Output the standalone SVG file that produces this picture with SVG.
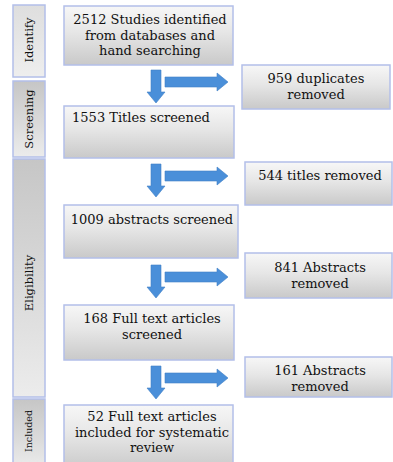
<svg xmlns="http://www.w3.org/2000/svg" width="393" height="462" viewBox="0 0 393 462">
  <defs>
    <linearGradient id="boxFill" x1="0" y1="0" x2="0" y2="1">
      <stop offset="0" stop-color="#f7f7f7"/>
      <stop offset="0.45" stop-color="#e6e6e6"/>
      <stop offset="1" stop-color="#c9c9c9"/>
    </linearGradient>
    <linearGradient id="stageFill" x1="0" y1="0" x2="0" y2="1">
      <stop offset="0" stop-color="#c6c6c6"/>
      <stop offset="0.6" stop-color="#dcdcdc"/>
      <stop offset="1" stop-color="#ececec"/>
    </linearGradient>
    <linearGradient id="stageLight" x1="0" y1="0" x2="0" y2="1">
      <stop offset="0" stop-color="#dedede"/>
      <stop offset="1" stop-color="#eeeeee"/>
    </linearGradient>
    <g id="arrowDown">
      <path d="M-5,0 H5 V22 H9 L0,33 L-9,22 H-5 Z"/>
    </g>
    <g id="arrowRight">
      <path d="M0,-5 H52 V-9 L63,0 L52,9 V5 H0 Z"/>
    </g>
  </defs>
  <style>
    .box { fill: url(#boxFill); stroke: #b3bfe9; stroke-width: 1.5; }
    .stage { fill: url(#stageFill); stroke: #b3bfe9; stroke-width: 1.5; }
    .stage.light { fill: url(#stageLight); }
    text { font-family: "DejaVu Serif", "Liberation Serif", serif; font-size: 13px; fill: #111111; text-anchor: middle; }
    .stage-label { font-size: 11.5px; }
    .stage-label.small { font-size: 9.5px; }
    .arrow { fill: #4a8fd9; stroke: #3f7fc6; stroke-width: 0.6; }
  </style>

  <!-- stage column -->
  <g id="stage-identify">
    <rect class="stage light" x="13" y="5" width="32" height="72"/>
    <text class="stage-label" transform="translate(33,40) rotate(-90)">Identify</text>
  </g>
  <g id="stage-screening">
    <rect class="stage" x="13" y="81" width="32" height="76"/>
    <text class="stage-label" transform="translate(33,119) rotate(-90)">Screening</text>
  </g>
  <g id="stage-eligibility">
    <rect class="stage" x="13" y="159" width="32" height="238"/>
    <text class="stage-label" transform="translate(33,283) rotate(-90)">Eligibility</text>
  </g>
  <g id="stage-included">
    <rect class="stage" x="13" y="399" width="32" height="70"/>
    <text class="stage-label small" transform="translate(32,431) rotate(-90)">Included</text>
  </g>

  <!-- main flow -->
  <g id="identified">
    <rect class="box" x="64" y="6" width="169" height="59"/>
    <text x="150" y="24">2512 Studies identified</text>
    <text x="150" y="39.5">from databases and</text>
    <text x="150" y="55">hand searching</text>
  </g>
  <g id="titles-screened">
    <rect class="box" x="64" y="106" width="170" height="52"/>
    <text x="141" y="122">1553 Titles screened</text>
  </g>
  <g id="abstracts-screened">
    <rect class="box" x="64" y="205" width="174" height="53"/>
    <text x="152" y="224">1009 abstracts screened</text>
  </g>
  <g id="fulltext-screened">
    <rect class="box" x="64" y="305" width="170" height="55"/>
    <text x="152" y="323">168 Full text articles</text>
    <text x="152" y="339">screened</text>
  </g>
  <g id="included">
    <rect class="box" x="64" y="405" width="169" height="65"/>
    <text x="152" y="421">52 Full text articles</text>
    <text x="152" y="436.5">included for systematic</text>
    <text x="152" y="452">review</text>
  </g>

  <!-- exclusions -->
  <g id="duplicates-removed">
    <rect class="box" x="242" y="65" width="148" height="44"/>
    <text x="316" y="83">959 duplicates</text>
    <text x="316" y="99">removed</text>
  </g>
  <g id="titles-removed">
    <rect class="box" x="245" y="162" width="147" height="43"/>
    <text x="320" y="180">544 titles removed</text>
  </g>
  <g id="abstracts-removed">
    <rect class="box" x="245" y="253" width="147" height="45"/>
    <text x="320" y="272">841 Abstracts</text>
    <text x="320" y="288">removed</text>
  </g>
  <g id="fulltext-removed">
    <rect class="box" x="245" y="357" width="147" height="40"/>
    <text x="320" y="375">161 Abstracts</text>
    <text x="320" y="391">removed</text>
  </g>

  <!-- connectors -->
  <g id="connectors" class="arrow">
    <use href="#arrowDown" x="156" y="70"/>
    <use href="#arrowRight" x="165" y="82"/>
    <use href="#arrowDown" x="156" y="164"/>
    <use href="#arrowRight" x="165" y="176"/>
    <use href="#arrowDown" x="156" y="265"/>
    <use href="#arrowRight" x="165" y="277"/>
    <use href="#arrowDown" x="156" y="366"/>
    <use href="#arrowRight" x="165" y="378"/>
  </g>
</svg>
